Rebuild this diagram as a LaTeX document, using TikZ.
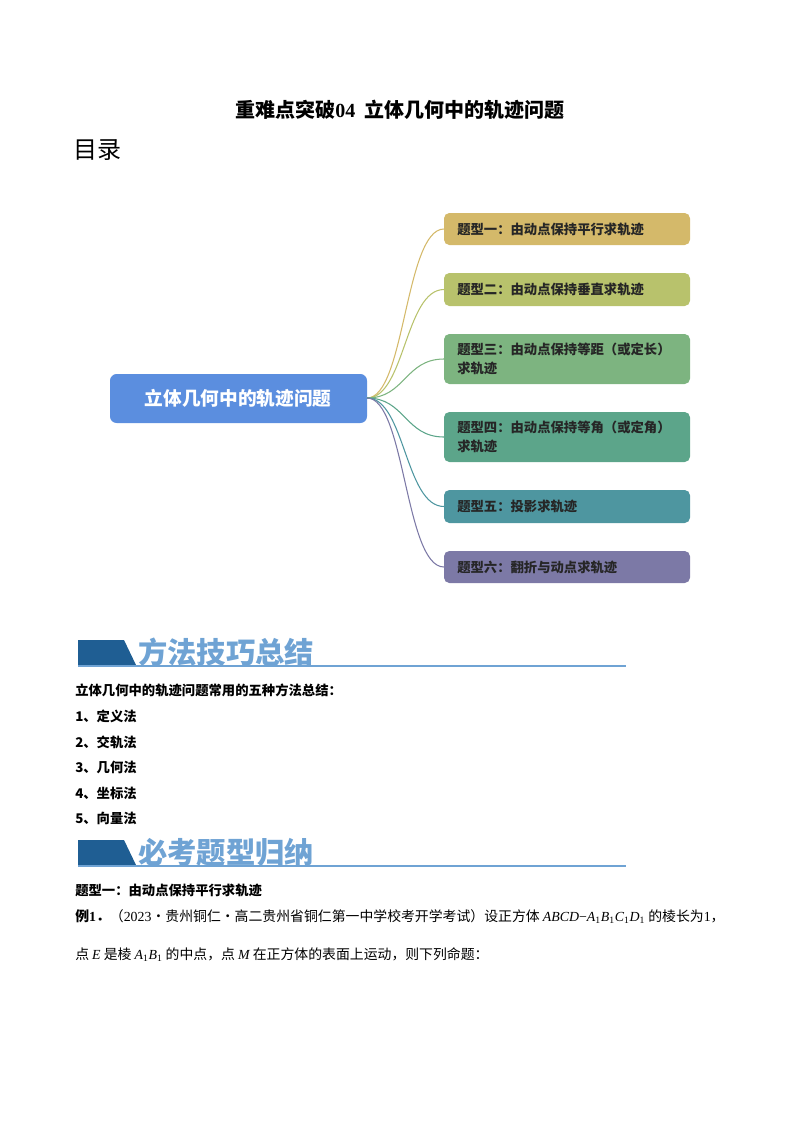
\documentclass[tikz,border=0pt]{standalone}
\usepackage{fontspec}
\setmainfont{Noto Sans CJK SC}
\newfontfamily\lser{Liberation Serif}
\definecolor{c1}{HTML}{D4B96A}
\definecolor{c2}{HTML}{B8C26C}
\definecolor{c3}{HTML}{7DB480}
\definecolor{c4}{HTML}{5CA58A}
\definecolor{c5}{HTML}{4E96A0}
\definecolor{c6}{HTML}{7C79A6}
\definecolor{cen}{HTML}{5B8EDF}
\definecolor{bdark}{HTML}{1F5E93}
\definecolor{blight}{HTML}{6FA3D4}
\begin{document}
\begin{tikzpicture}[x=0.75pt,y=-0.75pt,
  br/.style={rounded corners=4pt,inner sep=0pt,text width=230*0.75pt,align=left,font=\fontsize{10}{14}\selectfont\bfseries,text=black!85},
  body/.style={anchor=west,font=\fontsize{10}{12}\selectfont\bfseries,inner sep=0pt},
  link/.style={line width=0.8pt}]
\useasboundingbox (0,0) rectangle (800,1132);
\node[font=\fontsize{15}{18}\selectfont\bfseries] (title) at (400,110) {重难点突破{\lser 04}\ \ 立体几何中的轨迹问题};
\node[anchor=west,font=\fontsize{18}{20}\selectfont,inner sep=0pt] (ml) at (73,150) {目录};
% central
\fill[cen,rounded corners=5pt] (110,374) rectangle (367,423);
\node[text=white,font=\fontsize{14}{16}\selectfont\bfseries] (cen) at (238,398) {立体几何中的轨迹问题};
\coordinate (o) at (367,398);
\foreach \c/\ya/\yb/\t [count=\i] in {c1/213/245/{题型一：由动点保持平行求轨迹},c2/273/306/{题型二：由动点保持垂直求轨迹},c3/334/384/{题型三：由动点保持等距（或定长）\\求轨迹},c4/412/462/{题型四：由动点保持等角（或定角）\\求轨迹},c5/490/523/{题型五：投影求轨迹},c6/551/583/{题型六：翻折与动点求轨迹}}{
  \fill[\c,rounded corners=4pt] (444,\ya) rectangle (690,\yb);
  \node[br,anchor=west] (b\i) at (457,{(\ya+\yb)/2}) {\t};
  \coordinate (e\i) at (444,{(\ya+\yb)/2});
  \draw[link,\c] (o) .. controls (405,398) and (405,{(\ya+\yb)/2}) .. (e\i);
}
% banners
\foreach \y/\t [count=\k] in {640/方法技巧总结,840/必考题型归纳}{
  \fill[bdark] (78,\y) -- (124,\y) -- (136,\y+25) -- (78,\y+25) -- cycle;
  \draw[blight,line width=1pt] (78,\y+26) -- (626,\y+26);
  \node[anchor=west,text=blight,font=\fontsize{22}{24}\selectfont\bfseries,inner sep=0pt] (ban\k) at (138,\y+12) {\t};
}
\node[body] (l0) at (75,690) {立体几何中的轨迹问题常用的五种方法总结：};
\node[body] (l1) at (75,716) {1、定义法};
\node[body] (l2) at (75,742) {2、交轨法};
\node[body] (l3) at (75,767) {3、几何法};
\node[body] (l4) at (75,793) {4、坐标法};
\node[body] (l5) at (75,818) {5、向量法};
\node[body] (q1) at (75,890) {题型一：由动点保持平行求轨迹};
\node[anchor=west,inner sep=0pt,font=\fontsize{10.4}{12}\selectfont] (ex1) at (75,917) {\textbf{例{\lser 1}．}（{\lser 2023}·贵州铜仁·高二贵州省铜仁第一中学校考开学考试）设正方体 {\lser\itshape ABCD}{\lser −}{\lser\itshape A\textsubscript{\upshape 1}B\textsubscript{\upshape 1}C\textsubscript{\upshape 1}D\textsubscript{\upshape 1}} 的棱长为{\lser 1}，};
\node[anchor=west,inner sep=0pt,font=\fontsize{10.4}{12}\selectfont] (ex2) at (75,955) {点 {\lser\itshape E} 是棱 {\lser\itshape A\textsubscript{\upshape 1}B\textsubscript{\upshape 1}} 的中点，点 {\lser\itshape M} 在正方体的表面上运动，则下列命题：};
\end{tikzpicture}
\end{document}
